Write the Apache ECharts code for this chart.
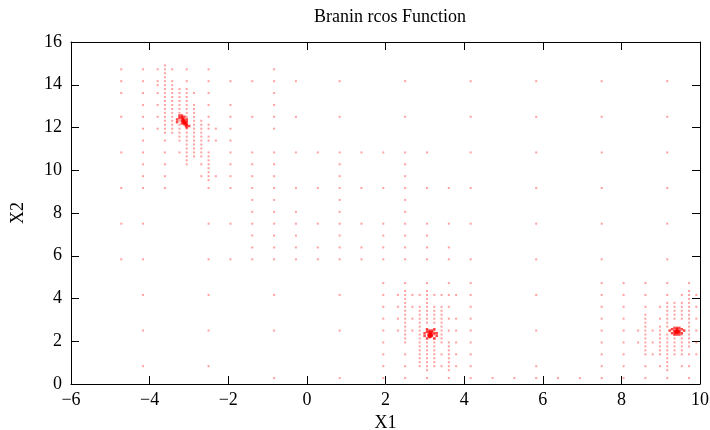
<!DOCTYPE html>
<html><head><meta charset="utf-8">
<script src="https://cdn.jsdelivr.net/npm/echarts@6/dist/echarts.min.js"></script>
<style>html,body{margin:0;padding:0;background:#fff}#c{width:710px;height:430px}</style>
</head><body><div id="c"></div>
<script>
const chartTitle = 'Branin rcos Function';
const xName = 'X1';
const yName = 'X2';
const xTicks = [-6, -4, -2, 0, 2, 4, 6, 8, 10];
const yTicks = [0, 2, 4, 6, 8, 10, 12, 14, 16];

// rows of sampled points: [y, [x values]]
const rowsTopLeft = [
  [14.907, [-3.611]],
  [14.722, [-4.722, -4.167, -3.796, -3.611, -3.426, -3.056, -2.5, -0.833]],
  [14.537, [-3.611]],
  [14.352, [-3.611]],
  [14.167, [-4.722, -4.167, -3.796, -3.611, -3.426, -3.056, -2.5, -1.944, -1.389, -0.833, -0.278, 0.833, 2.5, 4.167, 5.833, 7.5, 9.167]],
  [13.981, [-3.796, -3.611, -3.426]],
  [13.796, [-3.611, -3.426, -3.241, -3.056]],
  [13.611, [-4.722, -4.167, -3.796, -3.611, -3.426, -3.241, -3.056, -2.870, -2.5, -0.833]],
  [13.426, [-3.611, -3.426, -3.241, -3.056]],
  [13.241, [-3.611, -3.426, -3.241, -3.056]],
  [13.056, [-4.167, -3.796, -3.611, -3.426, -3.241, -3.056, -2.870, -2.5, -1.944, -0.833]],
  [12.870, [-3.611, -3.426, -3.241, -3.056, -2.870]],
  [12.685, [-3.611, -3.426, -3.241, -3.056, -2.870]],
  [12.5, [-4.722, -4.167, -3.796, -3.611, -3.426, -3.241, -3.056, -2.870, -2.5, -1.944, -1.389, -0.833, -0.278, 0.833, 2.5, 4.167, 5.833, 7.5, 9.167]],
  [12.315, [-3.611, -3.426, -3.241, -3.056, -2.870, -2.685]],
  [12.130, [-3.611, -3.426, -3.241, -3.056, -2.870, -2.685, -2.5]],
  [11.944, [-4.167, -3.796, -3.611, -3.426, -3.241, -3.056, -2.870, -2.685, -2.5, -2.315, -1.944, -0.833]],
  [11.759, [-3.611, -3.426, -3.241, -3.056, -2.870, -2.685]],
  [11.574, [-3.241, -3.056, -2.870, -2.685, -2.5]],
  [11.389, [-4.167, -3.611, -3.241, -3.056, -2.870, -2.685, -2.5, -2.315, -1.944]],
  [11.204, [-3.056, -2.870, -2.685]],
  [11.019, [-3.056, -2.870, -2.685]],
  [10.833, [-4.722, -4.167, -3.611, -3.241, -3.056, -2.870, -2.685, -2.5, -1.944]],
  [10.648, [-3.056, -2.870, -2.685, -2.5]],
  [10.463, [-3.056, -2.5]],
  [10.278, [-4.167, -3.611, -3.056, -2.685, -2.5, -1.944]],
  [10.093, [-2.5]],
  [9.907, [-2.5]],
  [9.722, [-4.167, -3.611, -2.685, -2.5, -2.315, -1.944]],
  [9.537, [-2.5]],
  [9.167, [-4.722, -4.167, -3.611, -2.5, -1.944]]
];

const rowsMiddle = [
  [10.833, [-1.389, -0.833, -0.278, 0.278, 0.833, 1.389, 1.944, 2.5, 3.056, 4.167, 5.833, 7.5, 9.167]],
  [10.278, [-1.389, -0.833, 0.833, 2.5]],
  [9.722, [-1.389, -0.833, 0.833, 2.5]],
  [9.167, [-1.389, -0.833, -0.278, 0.278, 0.833, 1.389, 1.944, 2.5, 3.056, 3.611, 4.167, 5.833, 7.5, 9.167]],
  [8.611, [-1.389, -0.833, 0.833, 2.5]],
  [8.056, [-1.389, -0.833, -0.278, 0.833, 2.5]],
  [7.5, [-4.722, -4.167, -2.5, -1.944, -1.389, -0.833, -0.278, 0.278, 0.833, 1.389, 1.944, 2.5, 3.056, 3.611, 4.167, 5.833, 7.5, 9.167]],
  [6.944, [-1.389, -0.833, -0.278, 0.833, 1.944, 2.5, 3.056]],
  [6.389, [-1.389, -0.833, -0.278, 0.278, 0.833, 1.389, 1.944, 2.5, 3.056, 3.611]],
  [5.833, [-4.722, -4.167, -2.5, -1.944, -1.389, -0.833, -0.278, 0.278, 0.833, 1.389, 1.944, 2.5, 3.056, 3.611, 4.167, 5.833, 7.5, 9.167]]
];

const rowsBottom = [
  [4.722, [1.944, 2.5, 3.056, 3.611, 4.167, 7.5, 8.056, 8.611, 9.167, 9.722]],
  [4.352, [2.5, 3.056, 9.722]],
  [4.167, [-4.167, -2.5, -0.833, 0.833, 1.944, 2.315, 2.5, 2.685, 2.870, 3.056, 3.241, 3.426, 3.611, 3.796, 4.167, 5.833, 7.5, 8.056, 8.611, 9.167, 9.537, 9.722, 9.907]],
  [3.981, [2.5, 3.056, 9.722]],
  [3.796, [2.5, 3.056, 9.167, 9.352, 9.537, 9.722]],
  [3.611, [1.944, 2.315, 2.5, 2.685, 2.870, 3.056, 3.241, 3.426, 3.611, 4.167, 7.5, 8.056, 8.611, 8.981, 9.167, 9.352, 9.537, 9.722, 9.907]],
  [3.426, [2.5, 2.870, 3.056, 3.241, 3.426, 9.167, 9.352, 9.537, 9.722]],
  [3.241, [2.5, 2.870, 3.056, 3.241, 3.426, 8.611, 9.167, 9.352, 9.537, 9.722]],
  [3.056, [1.944, 2.315, 2.5, 2.685, 2.870, 3.056, 3.241, 3.426, 3.611, 3.796, 4.167, 7.5, 8.056, 8.611, 8.981, 9.167, 9.352, 9.537, 9.722, 9.907]],
  [2.870, [2.5, 2.870, 3.056, 3.241, 3.426, 8.611, 9.167, 9.722]],
  [2.685, [2.5, 2.870, 3.426, 8.611, 8.981, 9.167, 9.722]],
  [2.5, [-4.167, -2.5, -0.833, 0.833, 1.944, 2.315, 2.5, 2.685, 2.870, 3.056, 3.241, 3.426, 3.611, 3.796, 4.167, 5.833, 7.5, 8.056, 8.426, 8.611, 8.796, 8.981, 9.722, 9.907]],
  [2.315, [2.5, 2.870, 3.241, 3.426, 8.611, 8.981, 9.167, 9.352, 9.537, 9.722]],
  [2.130, [2.5, 2.870, 3.241, 3.426, 8.611, 8.981, 9.167, 9.352, 9.537, 9.722]],
  [1.944, [1.944, 2.5, 2.870, 3.056, 3.241, 3.426, 3.611, 3.796, 4.167, 7.5, 8.056, 8.426, 8.611, 8.796, 8.981, 9.167, 9.352, 9.537, 9.722, 9.907]],
  [1.759, [2.870, 3.056, 3.241, 3.611, 8.611, 8.981, 9.167, 9.352, 9.537, 9.722]],
  [1.574, [2.870, 3.056, 3.241, 3.611, 8.611, 8.981, 9.167, 9.352, 9.537]],
  [1.389, [1.944, 2.5, 2.870, 3.056, 3.241, 3.426, 3.611, 3.796, 4.167, 7.5, 8.056, 8.611, 8.796, 8.981, 9.167, 9.352, 9.537, 9.722, 9.907]],
  [1.204, [2.870, 3.056, 3.241, 3.611, 9.167]],
  [1.019, [2.870, 3.056, 3.241, 3.611, 9.167]],
  [0.833, [-4.167, -2.5, 1.944, 2.5, 2.870, 3.056, 3.241, 3.426, 3.611, 3.796, 4.167, 5.833, 7.5, 8.056, 8.611, 8.981, 9.167, 9.537, 9.722]],
  [0.648, [3.056, 3.611, 9.167]],
  [0.278, [-0.833, 0.833, 1.944, 2.5, 3.056, 3.611, 4.167, 4.722, 5.278, 5.833, 6.389, 6.944, 7.5, 8.056, 8.611, 9.167, 9.722]]
];

// dense points around the three minima
const clusterTL = [
  [-3.241, 12.562], [-3.179, 12.562], [-3.117, 12.5], [-3.179, 12.5], [-3.241, 12.438], [-3.179, 12.438],
  [-3.158, 12.397], [-3.137, 12.377], [-3.117, 12.356], [-3.158, 12.315], [-3.137, 12.295], [-3.117, 12.274],
  [-3.096, 12.253], [-3.137, 12.233], [-3.117, 12.212], [-3.096, 12.191], [-3.075, 12.171], [-3.117, 12.150],
  [-3.056, 12.130], [-3.075, 12.068], [-2.994, 12.068], [-3.056, 12.006], [-3.302, 12.377], [-3.302, 12.253],
  [-3.056, 12.377], [-3.056, 12.253], [-3.179, 12.191], [-3.179, 12.315]
];
const clusterMid = [
  [3.117, 2.5], [3.179, 2.5], [3.117, 2.438], [3.137, 2.397], [3.158, 2.377], [3.117, 2.356], [3.137, 2.315],
  [3.158, 2.295], [3.137, 2.274], [3.117, 2.253], [3.158, 2.233], [3.137, 2.212], [3.117, 2.191], [3.179, 2.315],
  [3.096, 2.315], [3.179, 2.253], [3.096, 2.253], [2.994, 2.377], [2.994, 2.253], [3.302, 2.377], [3.302, 2.253],
  [3.056, 2.562], [3.241, 2.562], [3.056, 2.130], [3.241, 2.130], [3.179, 2.438], [3.056, 2.438], [3.241, 2.377]
];
const clusterRight = [
  [9.414, 2.562], [9.414, 2.5], [9.393, 2.479], [9.435, 2.479], [9.414, 2.459], [9.393, 2.438], [9.435, 2.438],
  [9.414, 2.418], [9.455, 2.418], [9.373, 2.397], [9.414, 2.397], [9.352, 2.5], [9.475, 2.5], [9.352, 2.438],
  [9.475, 2.438], [9.290, 2.377], [9.537, 2.377], [9.290, 2.562], [9.537, 2.562], [9.414, 2.624], [9.414, 2.315],
  [9.352, 2.624], [9.475, 2.624], [9.352, 2.315], [9.475, 2.315], [9.228, 2.5], [9.599, 2.5]
];

function rowsToPoints(rows) {
  const out = [];
  rows.forEach(r => r[1].forEach(x => out.push([x, r[0]])));
  return out;
}
const gridPts = rowsToPoints(rowsTopLeft).concat(rowsToPoints(rowsMiddle), rowsToPoints(rowsBottom));
const densePts = clusterTL.concat(clusterMid, clusterRight);

const FONT = 'Liberation Serif';
const minusFmt = v => String(v).replace('-', '\u2212');
const baseAxis = {
  axisLine: { show: true, onZero: false, lineStyle: { color: '#000', width: 1 } },
  axisTick: { show: true, inside: true, length: 8, lineStyle: { color: '#000' } },
  splitLine: { show: false },
  axisLabel: { color: '#000', fontFamily: FONT, fontSize: 18, formatter: minusFmt }
};
const chart = echarts.init(document.getElementById('c'), null, { renderer: 'canvas' });
chart.setOption({
  backgroundColor: '#fff',
  animation: false,
  title: {
    text: chartTitle, left: 314, top: 8, padding: 0,
    textStyle: { fontFamily: FONT, fontSize: 18, fontWeight: 'normal', color: '#000' }
  },
  grid: { left: 71, top: 42, right: 10, bottom: 46, containLabel: false, outerBoundsMode: 'none' },
  xAxis: [
    Object.assign({}, baseAxis, {
      type: 'value', min: xTicks[0], max: xTicks[xTicks.length - 1], interval: 2, position: 'bottom',
      name: xName, nameLocation: 'middle', nameGap: 25,
      nameTextStyle: { fontFamily: FONT, fontSize: 18, color: '#000' },
      axisLabel: Object.assign({}, baseAxis.axisLabel, { margin: 7 })
    }),
    Object.assign({}, baseAxis, {
      type: 'value', min: xTicks[0], max: xTicks[xTicks.length - 1], interval: 2, position: 'top',
      axisLabel: { show: false }
    })
  ],
  yAxis: [
    Object.assign({}, baseAxis, {
      type: 'value', min: yTicks[0], max: yTicks[yTicks.length - 1], interval: 2, position: 'left',
      name: yName, nameLocation: 'middle', nameGap: 44, nameRotate: 90,
      nameTextStyle: { fontFamily: FONT, fontSize: 18, color: '#000' },
      axisLabel: Object.assign({}, baseAxis.axisLabel, { margin: 9 })
    }),
    Object.assign({}, baseAxis, {
      type: 'value', min: yTicks[0], max: yTicks[yTicks.length - 1], interval: 2, position: 'right',
      axisLabel: { show: false }
    })
  ],
  series: [
    {
      type: 'scatter', data: gridPts, symbol: 'rect', symbolSize: 2,
      itemStyle: { color: 'rgba(255,40,40,0.55)' }, silent: true
    },
    {
      type: 'scatter', data: densePts, symbol: 'rect', symbolSize: 2.5,
      itemStyle: { color: 'rgba(255,0,0,0.9)' }, silent: true
    }
  ]
});
</script>
</body></html>
